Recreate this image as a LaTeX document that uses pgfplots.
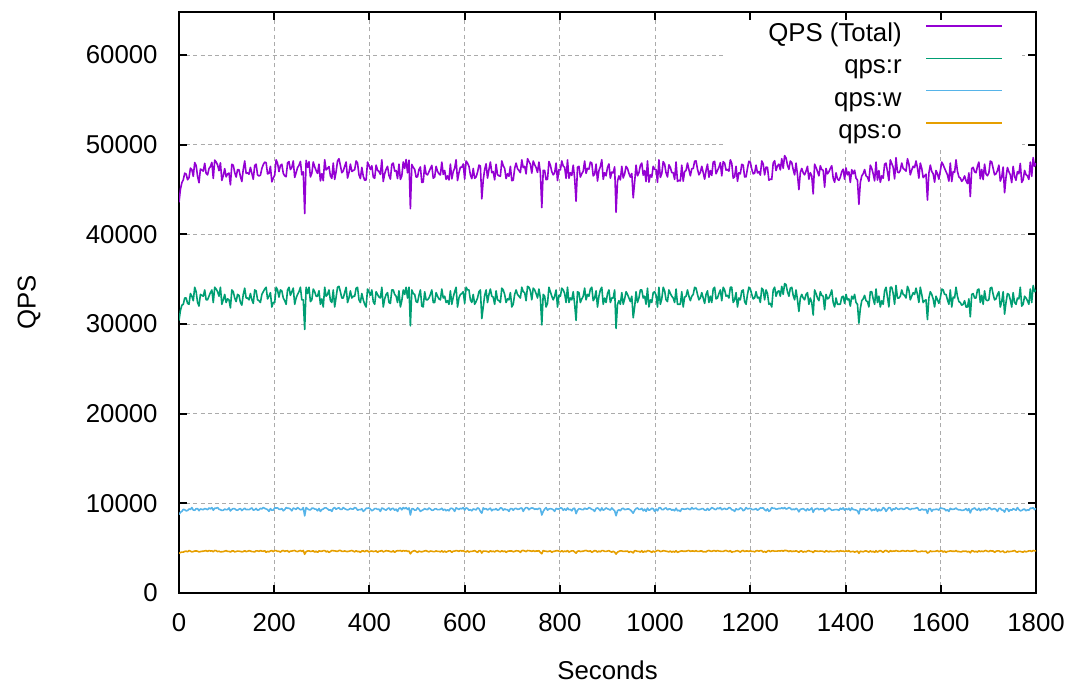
\documentclass[border=0pt]{standalone}
\usepackage{pgfplots}
\usepackage{pgfplotstable}
\usepackage{fontspec}
\setmainfont{Liberation Sans}
\pgfplotsset{compat=1.18}

\definecolor{gpviolet}{HTML}{9400D3}
\definecolor{gpgreen}{HTML}{009E73}
\definecolor{gpblue}{HTML}{56B4E9}
\definecolor{gporange}{HTML}{E69F00}
\definecolor{gridgray}{HTML}{ABABAB}

% Queries per second, sampled every 3 s: total, reads, writes, other
\pgfplotstableread{
t total r w o
0 43570 30400 8750 4420
3 45020 31500 9000 4520
6 45760 32100 9100 4560
9 46090 32200 9330 4560
12 46820 32900 9280 4640
15 46730 32900 9170 4660
18 46090 32300 9190 4600
21 46310 32200 9370 4740
24 47390 33400 9320 4670
27 47220 33100 9530 4590
30 46470 32600 9250 4620
33 48010 34100 9230 4680
36 47690 33600 9400 4690
39 46470 32400 9410 4660
42 45760 32000 9180 4580
45 47290 33300 9370 4620
48 47180 33200 9330 4650
51 47050 33100 9290 4660
54 47920 33800 9420 4700
57 46790 32700 9370 4720
60 46630 32700 9290 4640
63 47330 33100 9490 4740
66 47560 33500 9380 4680
69 48030 33800 9530 4700
72 46240 32400 9230 4610
75 48290 34100 9450 4740
78 48070 33900 9450 4720
81 47750 33600 9530 4620
84 47100 33100 9340 4660
87 47980 34100 9290 4590
90 46010 32200 9210 4600
93 46550 32700 9230 4620
96 47330 33300 9360 4670
99 46410 32400 9290 4720
102 46740 32800 9300 4640
105 46830 32700 9490 4640
108 45520 31800 9150 4570
111 47810 33800 9330 4680
114 47710 33600 9410 4700
117 46900 32900 9410 4590
120 46390 32500 9260 4630
123 47210 33300 9230 4680
126 47210 33200 9350 4660
129 46450 32400 9410 4640
132 45890 32100 9200 4590
135 47250 33300 9330 4620
138 48180 34000 9460 4720
141 46810 32900 9290 4620
144 46870 32900 9320 4650
147 46710 32700 9290 4720
150 47470 33400 9390 4680
153 46810 32700 9490 4620
156 46150 32300 9240 4610
159 47680 33800 9290 4590
162 47830 33700 9430 4700
165 46630 32700 9230 4700
168 46520 32600 9280 4640
171 46590 32400 9450 4740
174 47340 33300 9370 4670
177 47790 33600 9530 4660
180 48050 33900 9440 4710
183 48000 34100 9370 4530
186 46750 32800 9300 4650
189 46790 33100 9100 4590
192 47590 33500 9400 4690
195 45850 31900 9230 4720
198 46270 32400 9250 4620
201 46610 32400 9490 4720
204 48310 34100 9480 4730
207 47930 33800 9490 4640
210 47000 33000 9340 4660
213 47690 33800 9330 4560
216 47820 33700 9420 4700
219 46810 32900 9170 4740
222 46530 32600 9290 4640
225 46430 32200 9530 4700
228 47960 33800 9450 4710
231 48110 34100 9450 4560
234 47230 33200 9360 4670
237 47450 33600 9170 4680
240 48190 34000 9470 4720
243 46350 32200 9410 4740
246 46870 32900 9320 4650
249 47450 33300 9530 4620
252 47700 33600 9410 4690
255 48130 34100 9290 4740
258 46640 32700 9300 4640
261 46970 32700 9530 4740
264 42320 29400 8600 4320
267 48250 34100 9530 4620
270 47470 33400 9390 4680
273 48090 34100 9290 4700
276 46400 32500 9270 4630
279 46810 32700 9450 4660
282 48070 33900 9460 4710
285 47530 33600 9370 4560
288 47120 33100 9350 4670
291 46800 33100 9170 4530
294 47830 33700 9430 4700
297 45960 32200 9100 4660
300 46760 32800 9310 4650
303 45990 31900 9370 4720
306 48320 34100 9490 4730
309 47180 33100 9490 4590
312 47360 33300 9380 4680
315 47560 33800 9230 4530
318 46520 32600 9290 4630
321 46240 32400 9100 4740
324 47950 33800 9440 4710
327 46130 31900 9530 4700
330 46990 33000 9330 4660
333 48190 34100 9450 4640
336 48440 34200 9500 4740
339 47670 33600 9330 4740
342 46870 32900 9320 4650
345 47070 32900 9530 4640
348 47590 33500 9400 4690
351 48070 34100 9330 4640
354 46280 32400 9260 4620
357 46890 32900 9330 4660
360 47830 33700 9430 4700
363 47010 32900 9370 4740
366 47120 33100 9350 4670
369 47220 33100 9530 4590
372 48190 34000 9470 4720
375 47950 34100 9230 4620
378 46640 32700 9300 4640
381 46220 32400 9290 4530
384 47470 33400 9390 4680
387 46500 32700 9100 4700
390 46030 32200 9230 4600
393 46070 31900 9450 4720
396 48060 33900 9450 4710
399 47650 33600 9490 4560
402 47230 33200 9360 4670
405 47650 33800 9170 4680
408 46400 32500 9270 4630
411 46250 32200 9410 4640
414 47720 33600 9420 4700
417 47160 33300 9330 4530
420 47000 33000 9340 4660
423 46680 32900 9100 4680
426 48310 34100 9480 4730
429 45900 31900 9410 4590
432 46760 32800 9310 4650
435 47250 33300 9230 4720
438 47590 33500 9400 4690
441 46570 32400 9490 4680
444 46160 32300 9250 4610
447 47800 33800 9410 4590
450 47950 33800 9440 4710
453 47060 33300 9230 4530
456 47120 33100 9350 4670
459 46220 32400 9100 4720
462 47830 33700 9430 4700
465 46130 31900 9490 4740
468 46520 32600 9280 4640
471 48070 33800 9530 4740
474 47360 33300 9380 4680
477 48350 34100 9530 4720
480 46870 32900 9320 4650
483 48270 34100 9490 4680
486 42870 29800 8700 4370
489 47800 33800 9410 4590
492 47470 33400 9390 4680
495 47250 33300 9230 4720
498 46390 32500 9260 4630
501 46420 32400 9490 4530
504 47230 33200 9360 4670
507 47520 33800 9100 4620
510 45790 32000 9200 4590
513 45830 31900 9290 4640
516 47710 33600 9410 4700
519 46750 32700 9330 4720
522 46630 32700 9290 4640
525 46980 32900 9490 4590
528 47360 33300 9380 4680
531 47690 33800 9230 4660
534 46260 32400 9240 4620
537 46390 32400 9370 4620
540 47590 33500 9400 4690
543 47030 33100 9290 4640
546 46750 32800 9300 4650
549 46620 32700 9330 4590
552 48060 33900 9450 4710
555 46690 32900 9230 4560
558 47120 33100 9350 4670
561 46130 32400 9170 4560
564 46520 32600 9280 4640
567 46070 32200 9170 4700
570 47830 33700 9430 4700
573 46180 32200 9450 4530
576 47000 33000 9340 4660
579 47380 33600 9100 4680
582 48320 34100 9490 4730
585 46010 31900 9410 4700
588 46860 32900 9310 4650
591 47490 33300 9450 4740
594 47470 33400 9390 4680
597 47850 33600 9530 4720
600 46160 32300 9250 4610
603 48180 34100 9490 4590
606 47950 33800 9440 4710
609 47590 33800 9230 4560
612 46640 32700 9300 4640
615 46210 32400 9170 4640
618 47350 33300 9370 4680
621 46250 32200 9330 4720
624 46400 32500 9270 4630
627 46920 32900 9490 4530
630 47720 33600 9420 4700
633 47620 33800 9100 4720
636 43960 30600 8900 4460
639 46070 31900 9490 4680
642 47230 33200 9360 4670
645 47870 33800 9410 4660
648 46270 32400 9250 4620
651 47230 33300 9370 4560
654 48070 33900 9460 4710
657 46890 33100 9170 4620
660 46990 33000 9330 4660
663 46080 32200 9290 4590
666 47820 33700 9420 4700
669 46650 32700 9230 4720
672 46530 32600 9290 4640
675 46480 32400 9490 4590
678 48190 34000 9470 4720
681 47650 33800 9230 4620
684 47360 33300 9380 4680
687 46220 32400 9290 4530
690 46750 32800 9300 4650
693 46480 32700 9100 4680
696 47590 33500 9400 4690
699 45990 31900 9410 4680
702 46030 32200 9230 4600
705 47350 33300 9410 4640
708 47950 33800 9440 4710
711 47330 33300 9330 4700
714 47120 33100 9350 4670
717 46880 32900 9450 4530
720 48310 34100 9480 4730
723 47440 33600 9100 4740
726 47590 33500 9400 4690
729 46750 32600 9530 4620
732 48440 34200 9500 4740
735 48110 34100 9290 4720
738 47830 33700 9430 4700
741 46830 32700 9490 4640
744 48180 34000 9460 4720
747 47770 33800 9330 4640
750 47460 33400 9380 4680
753 46910 32900 9330 4680
756 48060 33900 9450 4710
759 46840 32900 9410 4530
762 42980 29900 8700 4380
765 47140 33300 9100 4740
768 47120 33100 9350 4670
771 46090 31900 9530 4660
774 46150 32300 9240 4610
777 48130 34100 9370 4660
780 47710 33600 9410 4700
783 47000 33100 9370 4530
786 46640 32700 9300 4640
789 46860 33100 9100 4660
792 47950 33800 9440 4710
795 45990 31900 9370 4720
798 47230 33200 9360 4670
801 47180 33100 9490 4590
804 48190 34000 9470 4720
807 47620 33800 9230 4590
810 47470 33400 9390 4680
813 46250 32400 9230 4620
816 48310 34100 9480 4730
819 46250 32400 9290 4560
822 46870 32900 9320 4650
825 46570 32700 9170 4700
828 47720 33600 9420 4700
831 46240 32200 9450 4590
834 43690 30400 8850 4440
837 47490 33600 9230 4660
840 47590 33500 9400 4690
843 46390 32400 9370 4620
846 46760 32800 9310 4650
849 47050 33100 9290 4660
852 48180 34000 9460 4720
855 46810 32700 9370 4740
858 47350 33300 9370 4680
861 47270 33100 9530 4640
864 48060 33900 9450 4710
867 47960 34100 9330 4530
870 46520 32600 9280 4640
873 46720 32900 9100 4720
876 47830 33700 9430 4700
879 45950 31900 9490 4560
882 47120 33100 9350 4670
885 47560 33800 9170 4590
888 48320 34100 9490 4730
891 46150 32200 9230 4720
894 46870 32900 9320 4650
897 46530 32400 9490 4640
900 47470 33400 9390 4680
903 47850 33800 9330 4720
906 46270 32400 9250 4620
909 46950 32900 9490 4560
912 46860 32900 9310 4650
915 47530 33800 9170 4560
918 42460 29500 8620 4340
921 45930 32200 9170 4560
924 46520 32600 9280 4640
927 46070 32200 9170 4700
930 47590 33500 9400 4690
933 46290 32200 9450 4640
936 46750 32800 9300 4650
939 47590 33600 9330 4660
942 47350 33300 9370 4680
945 46800 32900 9370 4530
948 46390 32500 9260 4630
951 46790 33100 9100 4590
954 44070 30700 8900 4470
957 45850 31900 9230 4720
960 47720 33600 9420 4700
963 46530 32400 9490 4640
966 46870 32900 9320 4650
969 47690 33800 9330 4560
972 47950 33800 9440 4710
975 46600 32900 9170 4530
978 47120 33100 9350 4670
981 45890 32200 9100 4590
984 48190 34000 9470 4720
987 45830 31900 9230 4700
990 46640 32700 9300 4640
993 46380 32400 9450 4530
996 47590 33500 9400 4690
999 47260 33600 9100 4560
1002 47230 33200 9360 4670
1005 45810 31900 9170 4740
1008 48310 34100 9480 4730
1011 46350 32200 9530 4620
1014 46760 32800 9310 4650
1017 48110 34100 9290 4720
1020 47830 33700 9430 4700
1023 46850 32700 9490 4660
1026 46400 32500 9270 4630
1029 47760 33800 9370 4590
1032 47460 33400 9380 4680
1035 46890 33100 9230 4560
1038 46870 32900 9320 4650
1041 46130 32400 9170 4560
1044 48070 33900 9460 4710
1047 45900 32200 9170 4530
1050 46030 32200 9230 4600
1053 45960 32200 9100 4660
1056 47710 33600 9410 4700
1059 45930 31900 9370 4660
1062 47000 33000 9340 4660
1065 47130 33100 9370 4660
1068 47950 33800 9440 4710
1071 47210 33100 9370 4740
1074 46530 32600 9290 4640
1077 47310 33100 9530 4680
1080 47350 33300 9370 4680
1083 48150 34100 9410 4640
1086 48190 34000 9470 4720
1089 47270 33300 9330 4640
1092 46640 32700 9300 4640
1095 46910 32900 9330 4680
1098 47590 33500 9400 4690
1101 46900 32900 9410 4590
1104 46160 32300 9250 4610
1107 47120 33300 9230 4590
1110 47830 33700 9430 4700
1113 46370 32400 9230 4740
1116 47120 33100 9350 4670
1119 46570 32400 9530 4640
1122 48060 33900 9450 4710
1125 48150 34100 9330 4720
1128 46760 32800 9310 4650
1131 47130 32900 9490 4740
1134 47470 33400 9390 4680
1137 47990 33800 9530 4660
1140 46520 32600 9280 4640
1143 48110 34100 9370 4640
1146 47950 33800 9440 4710
1149 47170 33100 9330 4740
1152 47230 33200 9360 4670
1155 47050 32900 9530 4620
1158 48310 34100 9480 4730
1161 47920 34100 9290 4530
1164 46270 32400 9250 4620
1167 46420 32700 9100 4620
1170 47590 33500 9400 4690
1173 45910 31900 9290 4720
1176 46870 32900 9320 4650
1179 46750 32700 9490 4560
1182 47820 33700 9420 4700
1185 47710 33800 9170 4740
1188 46400 32500 9270 4630
1191 46410 32200 9530 4680
1194 47360 33300 9380 4680
1197 48150 34100 9410 4640
1200 48060 33900 9450 4710
1203 47270 33300 9330 4640
1206 46750 32800 9300 4650
1209 46820 32900 9330 4590
1212 47720 33600 9420 4700
1215 46850 32900 9230 4720
1218 47000 33000 9340 4660
1221 46610 32400 9490 4720
1224 48190 34000 9470 4720
1227 47850 33800 9490 4560
1230 46630 32700 9290 4640
1233 47500 33800 9170 4530
1236 47470 33400 9390 4680
1239 46040 32200 9100 4740
1242 46150 32300 9240 4610
1245 46130 31900 9530 4700
1248 47950 33800 9440 4710
1251 48210 34100 9450 4660
1254 47120 33100 9350 4670
1257 47650 33600 9370 4680
1260 47830 33700 9430 4700
1263 47190 33100 9410 4680
1266 48440 34200 9500 4740
1269 47370 33300 9410 4660
1272 48780 34500 9530 4750
1275 48510 34400 9370 4740
1278 47710 33600 9410 4700
1281 47250 33100 9530 4620
1284 48180 34000 9460 4720
1287 48010 34100 9290 4620
1290 47230 33200 9360 4670
1293 46630 32700 9290 4640
1296 47950 33800 9440 4710
1299 46670 32700 9330 4640
1302 44990 31400 9050 4540
1305 46910 32900 9330 4680
1308 47350 33300 9370 4680
1311 46870 32900 9410 4560
1314 46640 32700 9300 4640
1317 47060 33300 9170 4590
1320 47590 33500 9400 4690
1323 46150 32200 9230 4720
1326 46870 32900 9320 4650
1329 46530 32400 9490 4640
1332 44510 31000 9000 4510
1335 47830 33800 9330 4700
1338 47460 33400 9380 4680
1341 47010 32900 9450 4660
1344 46520 32600 9280 4640
1347 47650 33600 9370 4680
1350 47230 33200 9360 4670
1353 47150 33100 9410 4640
1356 45260 31600 9100 4560
1359 47350 33300 9330 4720
1362 46750 32800 9300 4650
1365 46980 32900 9490 4590
1368 47350 33300 9370 4680
1371 47650 33800 9230 4620
1374 46270 32400 9250 4620
1377 45810 31900 9290 4620
1380 46860 32900 9310 4650
1383 46190 32200 9290 4700
1386 46020 32200 9220 4600
1389 46370 32200 9450 4720
1392 46990 33000 9330 4660
1395 47270 33100 9490 4680
1398 46150 32300 9240 4610
1401 47410 33300 9410 4700
1404 46630 32700 9290 4640
1407 46970 32800 9450 4720
1410 45790 32000 9200 4590
1413 47210 33100 9490 4620
1416 46750 32800 9300 4650
1419 47150 33300 9290 4560
1422 46270 32400 9250 4620
1425 46050 32200 9170 4680
1428 43350 30100 8820 4430
1431 45770 31700 9410 4660
1434 46510 32600 9280 4630
1437 46760 32800 9370 4590
1440 47230 33200 9360 4670
1443 46530 32600 9230 4700
1446 46390 32500 9260 4630
1449 45910 31900 9450 4560
1452 47710 33600 9410 4700
1455 47360 33600 9170 4590
1458 46760 32800 9310 4650
1461 45960 32200 9230 4530
1464 48060 33900 9450 4710
1467 46060 32400 9100 4560
1470 47120 33100 9350 4670
1473 45810 31900 9170 4740
1476 46520 32600 9280 4640
1479 46260 32200 9530 4530
1482 47830 33700 9430 4700
1485 47940 34100 9100 4740
1488 47000 33000 9340 4660
1491 45990 31900 9530 4560
1494 48310 34100 9480 4730
1497 47910 34100 9170 4640
1500 47470 33400 9390 4680
1503 46190 32200 9330 4660
1506 48550 34300 9510 4740
1509 46950 32900 9370 4680
1512 46870 32900 9320 4650
1515 47150 33100 9410 4640
1518 47950 33800 9440 4710
1521 47350 33300 9330 4720
1524 47230 33200 9360 4670
1527 47050 32900 9490 4660
1530 48440 34200 9500 4740
1533 47850 33800 9370 4680
1536 46640 32700 9300 4640
1539 47190 33100 9410 4680
1542 47590 33500 9400 4690
1545 47450 33300 9410 4740
1548 48190 34000 9470 4720
1551 47420 33300 9530 4590
1554 46270 32400 9250 4620
1557 47950 34100 9230 4620
1560 47350 33300 9370 4680
1563 46330 32400 9290 4640
1566 46520 32600 9280 4640
1569 46710 32700 9330 4680
1572 43830 30500 8880 4450
1575 46840 32900 9410 4530
1578 47720 33600 9420 4700
1581 47020 33300 9100 4620
1584 46760 32800 9310 4650
1587 45830 31900 9290 4640
1590 47120 33100 9350 4670
1593 46750 32700 9330 4720
1596 46150 32300 9240 4610
1599 47070 32900 9490 4680
1602 48060 33900 9450 4710
1605 47770 33800 9410 4560
1608 47360 33300 9380 4680
1611 47000 33300 9170 4530
1614 46630 32700 9290 4640
1617 45940 32200 9100 4640
1620 47950 33800 9440 4710
1623 45890 31900 9330 4660
1626 47000 33000 9340 4660
1629 46910 32900 9370 4640
1632 48310 34100 9480 4730
1635 47050 33100 9330 4620
1638 46400 32500 9270 4630
1641 46280 32400 9290 4590
1644 45910 32100 9210 4600
1647 46110 32200 9230 4680
1650 46520 32600 9280 4640
1653 45990 31900 9410 4680
1656 45670 31900 9190 4580
1659 46850 32800 9410 4640
1662 44210 30800 8930 4480
1665 47350 33300 9330 4720
1668 47470 33400 9390 4680
1671 46980 32900 9490 4590
1674 46870 32900 9320 4650
1677 47590 33800 9230 4560
1680 48060 33900 9450 4710
1683 46190 32400 9170 4620
1686 47230 33200 9360 4670
1689 46110 32200 9290 4620
1692 47830 33700 9430 4700
1695 46730 32700 9290 4740
1698 46530 32600 9290 4640
1701 46850 32700 9530 4620
1704 48180 34000 9460 4720
1707 48070 34100 9290 4680
1710 47350 33300 9370 4680
1713 46640 32700 9410 4530
1716 46760 32800 9310 4650
1719 47100 33300 9100 4700
1722 47720 33600 9420 4700
1725 45940 31900 9450 4590
1728 46390 32500 9260 4630
1731 47510 33600 9230 4680
1734 44640 31100 9020 4520
1737 46340 32400 9410 4530
1740 47460 33400 9380 4680
1743 46990 33300 9100 4590
1746 46640 32700 9300 4640
1749 45770 31900 9230 4640
1752 47590 33500 9400 4690
1755 46470 32400 9330 4740
1758 46030 32200 9230 4600
1761 46990 32900 9530 4560
1764 46760 32800 9310 4650
1767 47910 34100 9170 4640
1770 45790 32000 9200 4590
1773 46090 32200 9330 4560
1776 47120 33100 9350 4670
1779 46660 32900 9170 4590
1782 46520 32600 9280 4640
1785 46130 32200 9230 4700
1788 48060 33900 9450 4710
1791 46470 32400 9450 4620
1794 48560 34300 9520 4740
1797 47590 33600 9290 4700
1800 47950 33800 9440 4710
}\qpsdata

\begin{document}
\fontsize{12.9bp}{15bp}\selectfont
\begin{tikzpicture}
\begin{axis}[
  set layers,
  scale only axis,
  width=428.5bp, height=290.5bp,
  xmin=0, xmax=1800, ymin=0, ymax=64800,
  xtick={0,200,...,1800},
  ytick={0,10000,...,60000},
  scaled ticks=false,
  /pgf/number format/.cd, 1000 sep={}, assume math mode=true, /pgfplots/.cd,
  tick align=inside,
  tick pos=both,
  major tick length=3.8bp,
  every tick/.style={black, line width=1bp},
  axis line style={black, line width=1bp},
  grid=major,
  major grid style={gridgray, line width=0.5bp, dash pattern=on 2bp off 1.6bp},
  yticklabel style={inner sep=0pt, anchor=east, xshift=-10.5bp},
  xticklabel style={inner sep=0pt, anchor=north, yshift=-10bp},
  xlabel={Seconds},
  ylabel={QPS},
  xlabel style={at={(axis description cs:0.5,-0.1325)}, anchor=center, inner sep=0pt},
  ylabel style={at={(axis description cs:-0.175,0.5)}, anchor=center, inner sep=0pt},
  legend cell align=right,
  legend plot pos=right,
  legend style={at={(rel axis cs:0.9615,0.982)}, anchor=north east,
    draw=none, fill=none, inner sep=0pt, outer sep=0pt,
    column sep=12bp, row sep=3.65bp,
    nodes={inner sep=0pt, text height=9.5bp, text depth=3bp}},
  legend image code/.code={\draw[#1, line width=0.7bp] (0bp,4.4bp) -- (38bp,4.4bp);},
  no markers,
  every axis plot/.append style={line width=0.8bp, line join=round},
]
% blank the grid behind the key
\begin{pgfonlayer}{axis grid}
\fill[white] (rel axis cs:0.637,0.7625) rectangle (rel axis cs:0.9837,1);
\end{pgfonlayer}

\addplot[gpviolet] table[x=t, y=total] {\qpsdata};
\addlegendentry{QPS (Total)}
\addplot[gpgreen] table[x=t, y=r] {\qpsdata};
\addlegendentry{qps:r}
\addplot[gpblue] table[x=t, y=w] {\qpsdata};
\addlegendentry{qps:w}
\addplot[gporange] table[x=t, y=o] {\qpsdata};
\addlegendentry{qps:o}
\end{axis}
\path ([xshift=-89.5bp, yshift=-46bp]current axis.south west)
  rectangle ([xshift=18bp, yshift=6bp]current axis.north east);
\end{tikzpicture}
\end{document}
